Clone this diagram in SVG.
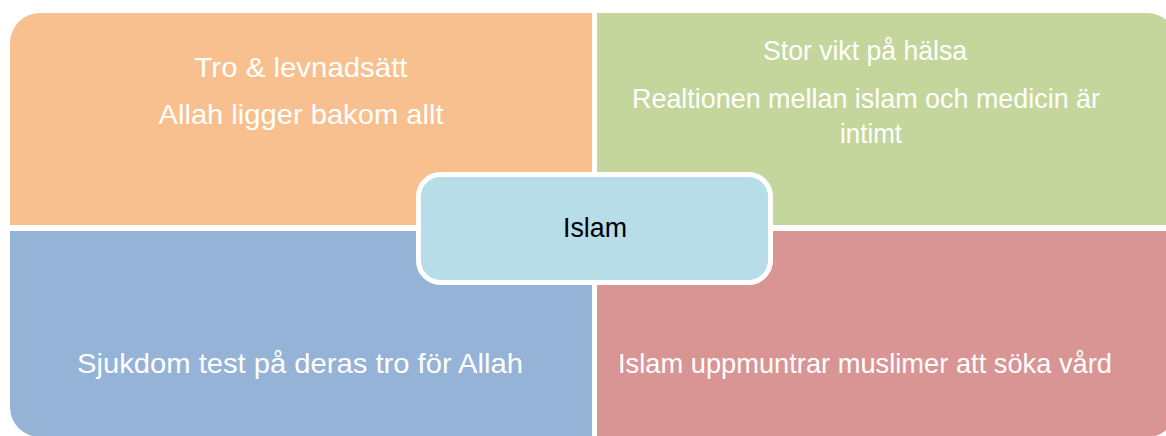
<svg xmlns="http://www.w3.org/2000/svg" width="1166" height="436" viewBox="0 0 1166 436">
<style>
.t{font-family:"Liberation Sans",Arial,sans-serif;font-size:28px;fill:#FFFFFF;text-anchor:middle}
.c{font-family:"Liberation Sans",Arial,sans-serif;font-size:28px;fill:#000000;text-anchor:middle}
</style>
<rect width="1166" height="436" fill="#FFFFFF"/>
<g id="connectors"></g>
<g id="q-tl">
<path d="M10,225 V43 A30,30 0 0 1 40,13 H592 V225 Z" fill="#F9C08F"/>
<text class="t" x="301" y="77" textLength="213" lengthAdjust="spacingAndGlyphs">Tro &amp; levnadsätt</text>
<text class="t" x="301" y="124" textLength="285" lengthAdjust="spacingAndGlyphs">Allah ligger bakom allt</text>
</g>
<g id="q-tr">
<path d="M597,13 H1147 A30,30 0 0 1 1177,43 V225 H597 Z" fill="#C4D69C"/>
<text class="t" x="865" y="60" textLength="204" lengthAdjust="spacingAndGlyphs">Stor vikt på hälsa</text>
<text class="t" x="866" y="108" textLength="468" lengthAdjust="spacingAndGlyphs">Realtionen mellan islam och medicin är</text>
<text class="t" x="871" y="143" textLength="62" lengthAdjust="spacingAndGlyphs">intimt</text>
</g>
<g id="q-bl">
<path d="M10,231 H592 V437 H40 A30,30 0 0 1 10,407 Z" fill="#95B3D7"/>
<text class="t" x="300" y="373" textLength="446" lengthAdjust="spacingAndGlyphs">Sjukdom test på deras tro för Allah</text>
</g>
<g id="q-br">
<path d="M597,231 H1177 V407 A30,30 0 0 1 1147,437 H597 Z" fill="#D99594"/>
<text class="t" x="865" y="373" textLength="494" lengthAdjust="spacingAndGlyphs">Islam uppmuntrar muslimer att söka vård</text>
</g>
<g id="center">
<rect x="418.5" y="174.5" width="352" height="108" rx="22" ry="22" fill="#B7DDE8" stroke="#FFFFFF" stroke-width="5"/>
<text class="c" x="595" y="237" textLength="64" lengthAdjust="spacingAndGlyphs">Islam</text>
</g>
</svg>
